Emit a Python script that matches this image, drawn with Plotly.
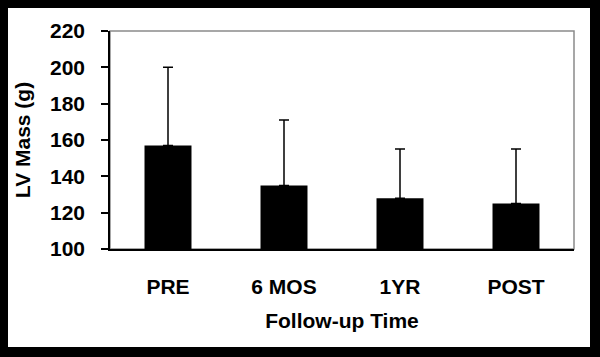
import plotly.graph_objects as go

categories = ["PRE", "6 MOS", "1YR", "POST"]
lv_mass_mean = [157, 135, 128, 125]
lv_mass_sd = [43, 36, 27, 30]
y_ticks = [100, 120, 140, 160, 180, 200, 220]

FONT = "Liberation Sans, Arial, sans-serif"

fig = go.Figure()
fig.add_trace(go.Bar(
    x=categories,
    y=lv_mass_mean,
    marker=dict(color="black", line=dict(width=0)),
    error_y=dict(type="data", symmetric=False, array=lv_mass_sd,
                 arrayminus=[0] * len(lv_mass_sd),
                 color="black", thickness=1.5, width=5),
    width=0.405,
))

# plot area geometry (pixels)
L, R, T, B = 110, 574, 31, 249
W, H = 600, 357
pw, ph = R - L, B - T

def px_x(p):
    return (p - L) / pw

def px_y(p):
    return (B - p) / ph

fig.add_shape(type="rect", xref="paper", yref="paper",
              x0=px_x(8), x1=px_x(590), y0=px_y(347), y1=px_y(8),
              fillcolor="white", line=dict(width=0), layer="below")
fig.add_shape(type="rect", xref="paper", yref="paper",
              x0=0, x1=1, y0=0, y1=1,
              fillcolor="rgba(0,0,0,0)", line=dict(color="#8a8a8a", width=1.5),
              layer="below")

fig.update_layout(
    width=W, height=H,
    margin=dict(l=L, r=W - R, t=T, b=H - B, pad=0),
    paper_bgcolor="black",
    plot_bgcolor="white",
    showlegend=False,
    font=dict(family=FONT, color="black", size=21),
    bargap=0.595,
)
fig.update_xaxes(
    showline=True, linecolor="black", linewidth=1.5,
    showgrid=False, ticks="", ticklabelstandoff=18,
    tickfont=dict(family=FONT, size=21, color="black", weight="bold"),
    title=dict(text="<b>Follow-up Time</b>", font=dict(family=FONT, size=21), standoff=16),
)
fig.update_yaxes(
    range=[100, 220], tickvals=y_ticks,
    showline=True, linecolor="black", linewidth=1.5,
    showgrid=False, ticks="outside", ticklen=7, tickwidth=1.5, tickcolor="black",
    ticklabelstandoff=12,
    tickfont=dict(family=FONT, size=21, color="black", weight="bold"),
    title=dict(text="<b>LV Mass (g)</b>", font=dict(family=FONT, size=21), standoff=14),
    zeroline=False,
)

fig.write_html(
    "out.html",
    config={"displayModeBar": False},
    post_script="document.body.style.margin='0';document.body.style.background='black';",
)
